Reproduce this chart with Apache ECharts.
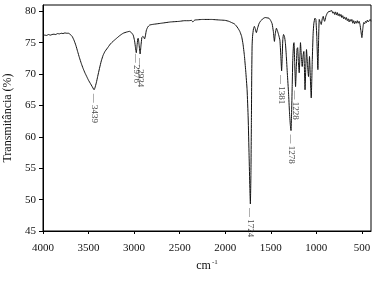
<!DOCTYPE html>
<html>
<head>
<meta charset="utf-8">
<script src="https://cdn.jsdelivr.net/npm/echarts@6/dist/echarts.min.js"></script>
<style>html,body{margin:0;padding:0;background:#fff;}#c{width:373px;height:284px;}</style>
</head>
<body>
<div id="c"></div>
<script>
var wavenumbers = [4000,3980,3960,3940,3920,3900,3880,3860,3840,3820,3800,3780,3760,3740,3720,3700,3680,3660,3640,3620,3600,3580,3560,3540,3520,3500,3480,3460,3445,3439,3430,3415,3400,3380,3360,3340,3320,3300,3280,3260,3232,3200,3160,3120,3080,3050,3030,3010,2995,2985,2976,2968,2960,2955,2945,2934,2925,2915,2905,2895,2885,2875,2865,2850,2830,2800,2750,2700,2650,2600,2550,2500,2450,2400,2370,2355,2345,2335,2300,2250,2200,2150,2100,2050,2000,1960,1930,1900,1880,1860,1840,1820,1805,1790,1775,1760,1748,1738,1730,1724,1718,1713,1709,1705,1700,1690,1680,1670,1658,1645,1630,1615,1600,1580,1560,1540,1520,1500,1485,1472,1460,1450,1438,1425,1413,1400,1390,1381,1375,1368,1360,1350,1340,1330,1318,1305,1295,1285,1278,1272,1265,1258,1250,1245,1238,1228,1220,1212,1205,1197,1188,1180,1174,1165,1155,1145,1137,1130,1124,1116,1108,1097,1086,1080,1075,1066,1056,1045,1035,1027,1015,1005,995,983,975,968,958,946,935,924,915,909,895,880,870,850,830,820,810,800,790,780,770,760,750,740,730,720,710,700,690,680,670,660,650,640,630,620,610,600,590,580,570,560,550,540,530,521,512,500,490,480,470,460,450,440,430,420,410,400];
var transmittance = [76.2,76.2,76.15,76.3,76.2,76.3,76.35,76.3,76.45,76.4,76.5,76.45,76.55,76.5,76.5,76.3,76.0,75.4,74.6,73.6,72.6,71.7,70.9,70.2,69.6,69.0,68.5,68.0,67.6,67.5,67.8,68.6,69.6,70.9,72.1,73.0,73.6,74.0,74.4,74.8,75.2,75.6,76.1,76.5,76.7,76.8,76.6,76.2,75.3,74.2,73.4,74.5,75.6,75.7,74.6,73.2,74.5,75.8,76.0,75.9,75.6,76.2,77.0,77.5,77.8,77.9,78.0,78.1,78.2,78.3,78.35,78.4,78.5,78.5,78.55,78.3,78.45,78.6,78.65,78.7,78.7,78.7,78.65,78.6,78.55,78.4,78.2,78.0,77.7,77.3,76.8,76.0,74.8,73.0,70.5,67.5,63.0,57.0,52.0,49.3,54.0,62.0,70.0,74.5,76.0,77.2,77.6,77.2,76.6,77.3,78.0,78.4,78.6,78.9,79.0,78.95,78.9,78.5,78.0,76.8,75.2,76.5,77.3,76.8,76.2,75.4,73.0,70.5,72.5,75.5,76.3,76.0,75.0,73.0,70.0,67.0,64.0,61.8,61.0,63.5,68.0,72.5,74.8,75.0,72.0,68.0,71.0,74.0,74.2,72.0,70.2,73.0,75.0,73.0,71.2,73.0,73.6,70.5,67.5,71.0,73.9,71.5,69.6,71.5,72.8,69.5,66.2,72.0,76.5,78.1,78.9,78.7,76.0,70.7,75.5,78.7,78.3,77.9,78.8,79.2,78.6,78.4,79.2,79.7,79.9,80.0,80.1,79.7,79.9,79.5,79.9,79.4,79.8,79.3,79.6,79.2,79.5,79.0,79.3,78.8,79.1,78.7,79.0,78.5,78.8,78.3,78.7,78.4,78.7,78.1,78.5,78.0,78.4,78.1,78.5,78.1,78.4,77.9,77.0,75.8,77.2,78.2,78.0,78.4,78.2,78.6,78.3,78.5,78.7,78.4,78.6,78.5];
var peakLabels = ['3439','2976','2934','1724','1381','1278','1228'];
var peakPositions = [3439,2976,2934,1724,1381,1278,1228];
var peakValues = [67.5,73.4,73.2,49.3,70.5,61.0,68.0];
var xTicks = [4000,3500,3000,2500,2000,1500,1000,500];
var yTicks = [45,50,55,60,65,70,75,80];

var lineData = wavenumbers.map(function(w,i){return [w, transmittance[i]];});
var peakData = peakPositions.map(function(w,i){
  var item = {value:[w, peakValues[i]], name: peakLabels[i]};
  if (peakLabels[i] === '2976') { item.label = {offset:[-3,0]}; }
  return item;
});
var font = "'Liberation Serif','Times New Roman',serif";
function plain(v){return String(v);}

var chart = echarts.init(document.getElementById('c'), null, {renderer:'canvas'});
chart.setOption({
  animation:false,
  backgroundColor:'#fff',
  grid:{left:43,right:2,top:5,bottom:53,show:true,borderColor:'#000',borderWidth:1,backgroundColor:'transparent',outerBoundsMode:'none',containLabel:false},
  xAxis:{
    type:'value', inverse:true, min:400, max:4000,
    name:'{a|cm}{b|-1}', nameLocation:'middle', nameGap:26,
    nameTextStyle:{rich:{a:{fontFamily:font,fontSize:12,color:'#111'},b:{fontFamily:font,fontSize:7,color:'#111',verticalAlign:'top',padding:[0,0,7,1]}}},
    axisLine:{show:true,lineStyle:{color:'#000',width:1}},
    axisTick:{show:true,length:3,inside:false,customValues:xTicks,lineStyle:{color:'#000'}},
    axisLabel:{customValues:xTicks,formatter:plain,margin:12,fontFamily:font,fontSize:11,color:'#111'},
    splitLine:{show:false}
  },
  yAxis:{
    type:'value', min:45, max:81,
    name:'Transmitância (%)', nameLocation:'middle', nameGap:23,
    nameTextStyle:{fontFamily:font,fontSize:12,color:'#111'},
    axisLine:{show:true,lineStyle:{color:'#000',width:1}},
    axisTick:{show:true,length:4,inside:false,customValues:yTicks,lineStyle:{color:'#000'}},
    axisLabel:{customValues:yTicks,formatter:plain,margin:7,fontFamily:font,fontSize:11,color:'#111'},
    splitLine:{show:false}
  },
  series:[
    {type:'line',data:lineData,showSymbol:false,symbol:'none',smooth:0.15,
     lineStyle:{color:'#111',width:1},z:3},
    {type:'scatter',data:peakData,symbolSize:0,z:4,
     label:{show:true,position:'bottom',distance:4,rotate:-90,align:'left',verticalAlign:'middle',
       formatter:function(p){return '— '+p.name;},fontFamily:font,fontSize:9,color:'#111'}}
  ]
});
</script>
</body>
</html>
